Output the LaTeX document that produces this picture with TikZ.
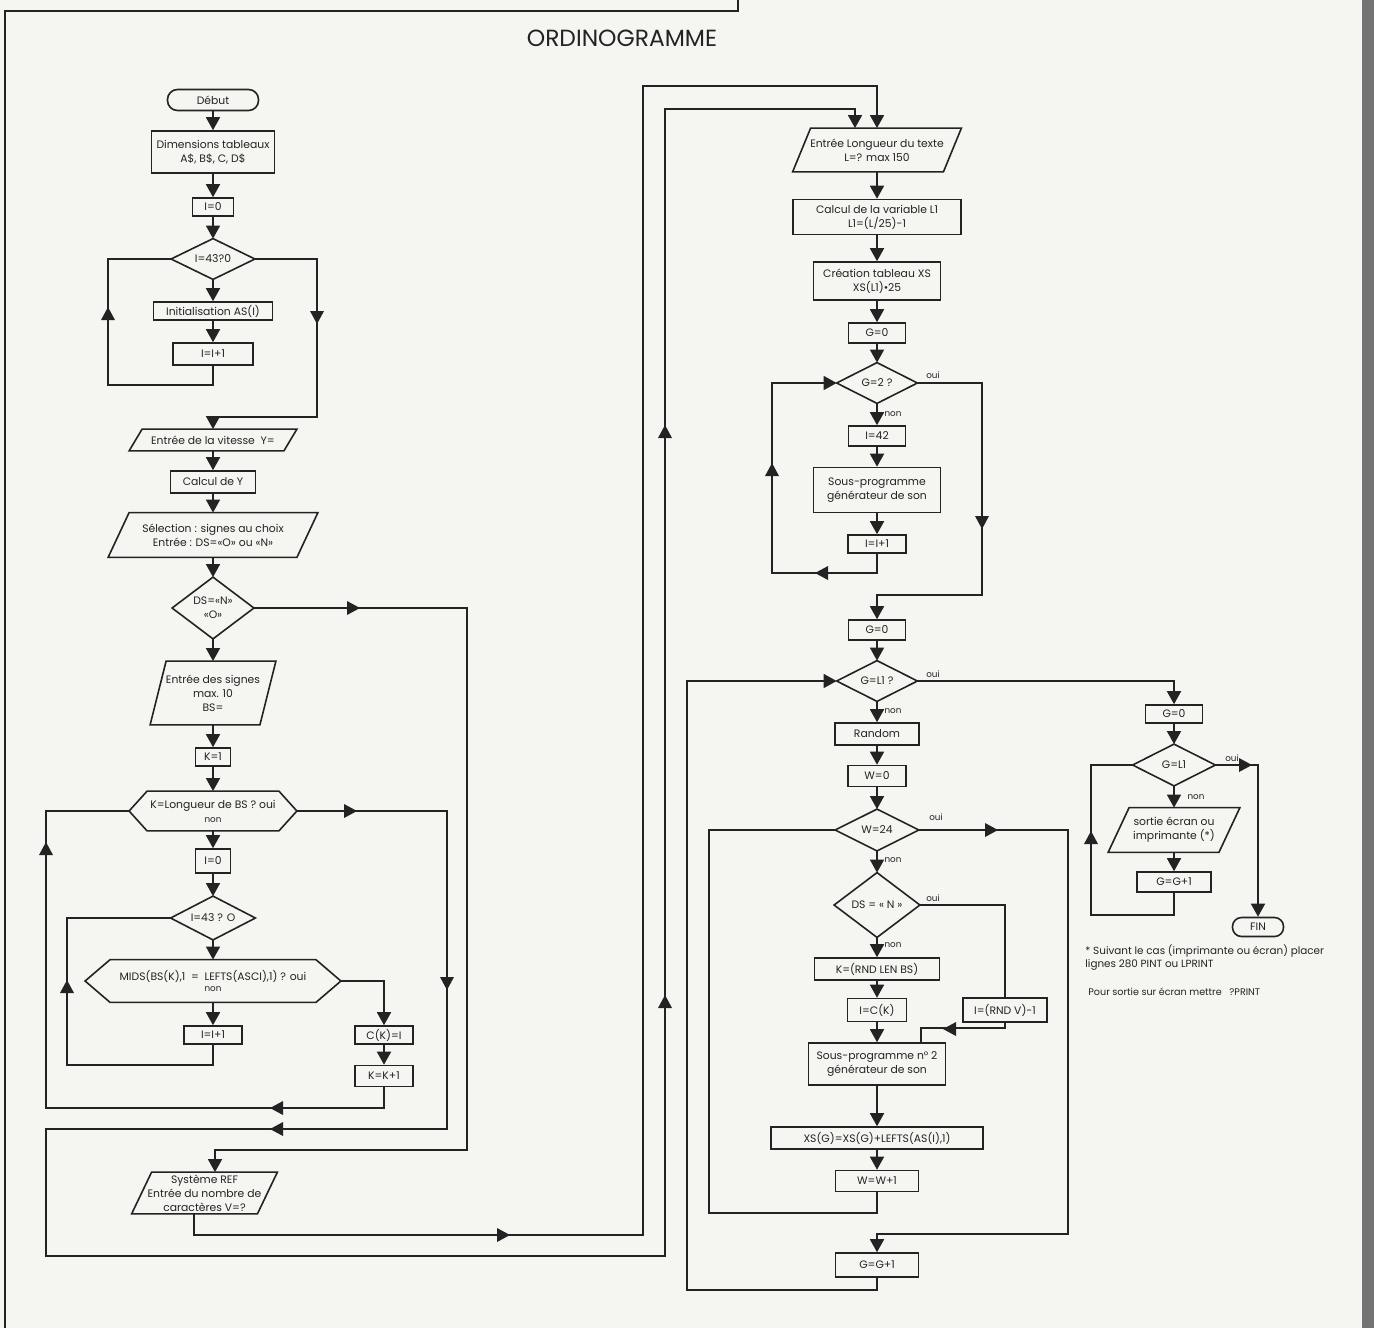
\documentclass[tikz,border=0pt]{standalone}
\usepackage{fontspec}
\setmainfont{Poppins}
\usetikzlibrary{arrows.meta,calc}
\definecolor{lc}{RGB}{35,35,35}
\definecolor{bgc}{RGB}{245,245,242}
\newcommand\bxfont{\fontsize{5.4}{7}\selectfont}
\newcommand\lbfont{\fontsize{4.4}{5}\selectfont}
\newcommand\ntfont{\fontsize{5.2}{6.8}\selectfont}
\newcommand\mkpara[2]{\draw[ln] ([xshift=#2]#1.north west) -- (#1.north east) -- ([xshift=-#2]#1.south east) -- (#1.south west) -- cycle;}
\newcommand\mkhex[2]{\draw[ln] (#1.west) -- ([xshift=#2]#1.north west) -- ([xshift=-#2]#1.north east) -- (#1.east) -- ([xshift=-#2]#1.south east) -- ([xshift=#2]#1.south west) -- cycle;}
\newcommand\mkdiam[1]{\draw[ln] (#1.north) -- (#1.east) -- (#1.south) -- (#1.west) -- cycle;}
\begin{document}
\begin{tikzpicture}[x=0.5pt,y=-0.5pt,
  ln/.style={draw=lc, line width=0.8pt},
  arr/.style={ln, -{Triangle[length=6.5pt,width=7pt]}},
  nb/.style={rectangle, inner sep=0pt, align=center, font=\bxfont, text=lc},
  box/.style={nb, draw=lc, line width=0.8pt},
  sz/.style 2 args={minimum width={(#1)*0.5pt}, minimum height={(#2)*0.5pt}},
  lab/.style={inner sep=0pt, font=\lbfont, text=lc},
  nt/.style={inner sep=0pt, font=\ntfont, text=lc, align=left},
  pics/ah/.style={code={\fill[lc] (0,0) -- (-13,7) -- (-13,-7) -- cycle;}}
]
\fill[bgc] (0,0) rectangle (1374,1328);
\useasboundingbox (0,0) rectangle (1374,1328);
\fill[black!55] (1362,0) rectangle (1374,1328);
\draw[ln] (5,1328) -- (5,11) -- (738,11) -- (738,0);
\node[font=\fontsize{11.7}{13}\selectfont, text=lc, inner sep=0pt] (title) at (622,38) {ORDINOGRAMME};

% ---------------- left column
\node[box, rounded corners=5pt, sz={91}{21}] (debut) at (213,100) {Début};
\node[box, sz={123}{42}] (dim) at (213,152) {Dimensions tableaux\\A\$, B\$, C, D\$};
\node[box, sz={41}{18}] (i0a) at (213,207) {I=0};
\node[nb, sz={83}{40}] (d1) at (213,259) {I=43?0}; \mkdiam{d1}
\node[box, sz={119}{18}] (init) at (213,311) {Initialisation AS(I)};
\node[box, sz={80}{22}] (inc1) at (213,354) {I=I+1};
\node[nb, sz={167}{21}] (vit) at (213,440) {Entrée de la vitesse\ \ Y=}; \mkpara{vit}{6.5pt}
\node[box, sz={85}{22}] (caly) at (213,482) {Calcul de Y};
\node[nb, sz={209}{44}] (sel) at (213,535) {Sélection : signes au choix\\Entrée : DS=«O» ou «N»}; \mkpara{sel}{10.5pt}
\node[nb, sz={81}{61}] (dsd) at (213,608) {DS=«N»\\«O»}; \mkdiam{dsd}
\node[nb, sz={125}{63}] (sig) at (213,693) {Entrée des signes\\max. 10\\BS=}; \mkpara{sig}{8pt}
\node[box, sz={35}{18}] (k1) at (213,757) {K=1};
\node[nb, sz={167}{39}] (khex) at (213,811) {K=Longueur de BS ? oui\\{\lbfont non}}; \mkhex{khex}{9pt}
\node[box, sz={35}{24}] (i0b) at (213,861) {I=0};
\node[nb, sz={84}{43}] (d43) at (213,918) {I=43 ? O}; \mkdiam{d43}
\node[nb, sz={255}{42}] (midhex) at (213,981) {MIDS(BS(K),1\ \ =\ \ LEFTS(ASCI),1) ? oui\\[-1.5pt]{\lbfont non}}; \mkhex{midhex}{12.5pt}
\node[box, sz={58}{18}] (inc2) at (213,1035) {I=I+1};
\node[box, sz={58}{18}] (ck) at (384,1035) {C(K)=I};
\node[box, sz={58}{21}] (kk) at (384,1076) {K=K+1};
\node[nb, sz={145}{41}] (sys) at (204.5,1193) {Système REF\\Entrée du nombre de\\caractères V=?}; \mkpara{sys}{10pt}

\draw[arr] (debut.south) -- (dim.north);
\draw[arr] (dim.south) -- (i0a.north);
\draw[arr] (i0a.south) -- (d1.north);
\draw[arr] (d1.south) -- (init.north);
\draw[arr] (init.south) -- (inc1.north);
\draw[ln] (inc1.south) |- (108,385) |- (d1.west);
\draw[arr] (d1.east) -| (317,417) -| (vit.north);
\draw[arr] (vit.south) -- (caly.north);
\draw[arr] (caly.south) -- (sel.north);
\draw[arr] (sel.south) -- (dsd.north);
\draw[arr] (dsd.south) -- (sig.north);
\draw[arr] (sig.south) -- (k1.north);
\draw[arr] (k1.south) -- (khex.north);
\draw[arr] (khex.south) -- (i0b.north);
\draw[arr] (i0b.south) -- (d43.north);
\draw[arr] (d43.south) -- (midhex.north);
\draw[arr] (midhex.south) -- (inc2.north);
\draw[arr] (midhex.east) -| (ck.north);
\draw[arr] (ck.south) -- (kk.north);
\draw[ln] (inc2.south) |- (67,1065) |- (d43.west);
\draw[ln] (kk.south) |- (46,1108) |- (khex.west);
\draw[arr] (dsd.east) -| (467,1150) -| ([xshift=5.25pt]sys.north);

\pic[rotate=90] at (108,307) {ah};
\pic[rotate=-90] at (317,324) {ah};
\pic at (360,608) {ah};
\pic at (357,811) {ah};
\pic[rotate=-90] at (447,990) {ah};
\pic[rotate=90] at (67,980) {ah};
\pic[rotate=180] at (270,1108) {ah};
\pic[rotate=90] at (46,842) {ah};
\pic[rotate=180] at (270,1129) {ah};
\pic at (510,1235) {ah};
\pic[rotate=90] at (665,425) {ah};
\pic[rotate=90] at (665,995) {ah};

% ---------------- middle column
\node[nb, sz={168}{43}] (elong) at (877,150) {Entrée Longueur du texte\\L=? max 150}; \mkpara{elong}{9pt}
\node[box, sz={168}{35}] (calc) at (877,217) {Calcul de la variable L1\\L1=(L/25)-1};
\node[box, sz={127}{38}] (crea) at (877,281) {Création tableau XS\\XS(L1)•25};
\node[box, sz={57}{20}] (g0a) at (877,333) {G=0};
\node[nb, sz={80}{40}] (d2) at (877,383) {G=2 ?}; \mkdiam{d2}
\node[box, sz={57}{20}] (i42) at (877,436) {I=42};
\node[box, sz={127}{45}] (sous) at (877,490) {Sous-programme\\générateur de son};
\node[box, sz={58}{18}] (inc3) at (877,544) {I=I+1};
\node[box, sz={57}{20}] (g0b) at (877,630) {G=0};
\node[nb, sz={80}{40}] (dl1) at (877,681) {G=L1 ?}; \mkdiam{dl1}
\node[box, sz={84}{22}] (rand) at (877,734) {Random};
\node[box, sz={58}{21}] (w0) at (877,776) {W=0};
\node[nb, sz={83}{41}] (dw) at (877,830) {W=24}; \mkdiam{dw}
\node[nb, sz={85}{64}] (dds) at (877,905) {DS = « N »}; \mkdiam{dds}
\node[box, sz={125}{22}] (krnd) at (877,969) {K=(RND LEN BS)};
\node[box, sz={59}{23}] (ick) at (877,1010) {I=C(K)};
\node[box, sz={84}{24}] (irv) at (1005,1010) {I=(RND V)-1};
\node[box, sz={137}{42}] (sous2) at (877,1064) {Sous-programme n° 2\\générateur de son};
\node[box, sz={212}{22}] (xs) at (877,1138) {XS(G)=XS(G)+LEFTS(AS(I),1)};
\node[box, sz={83}{21}] (ww) at (877,1181) {W=W+1};
\node[box, sz={83}{24}] (gg) at (877,1265) {G=G+1};

\draw[arr] (khex.east) -| (447,1129) -| (46,1256) -| (665,109) -| ([xshift=-11pt]elong.north);
\draw[arr] ([xshift=-5.25pt]sys.south) |- (643,1235) |- (877,86) -- (elong.north);

\draw[arr] (elong.south) -- (calc.north);
\draw[arr] (calc.south) -- (crea.north);
\draw[arr] (crea.south) -- (g0a.north);
\draw[arr] (g0a.south) -- (d2.north);
\draw[arr] (d2.south) -- (i42.north);
\draw[arr] (i42.south) -- (sous.north);
\draw[arr] (sous.south) -- (inc3.north);
\draw[arr] (inc3.south) |- (772,573) |- (d2.west);
\draw[arr] (d2.east) -| (982,595) -| (g0b.north);
\draw[arr] (g0b.south) -- (dl1.north);
\draw[arr] (dl1.south) -- (rand.north);
\draw[arr] (rand.south) -- (w0.north);
\draw[arr] (w0.south) -- (dw.north);
\draw[arr] (dw.south) -- (dds.north);
\draw[arr] (dds.south) -- (krnd.north);
\draw[arr] (krnd.south) -- (ick.north);
\draw[arr] (ick.south) -- (sous2.north);
\draw[arr] (sous2.south) -- (xs.north);
\draw[arr] (xs.south) -- (ww.north);
\draw[ln] (dds.east) -| (irv.north);
\draw[ln] (irv.south) |- ([xshift=22pt,yshift=7pt]sous2.north) -- ([xshift=22pt]sous2.north);
\draw[ln] (ww.south) |- (709,1213) |- (dw.west);
\draw[arr] (dw.east) -| (1068,1234) -| (gg.north);
\draw[arr] (gg.south) |- (687,1290) |- (dl1.west);

\pic[rotate=180] at (815,573) {ah};
\pic[rotate=90] at (772,463) {ah};
\pic[rotate=-90] at (982,529) {ah};
\pic[rotate=180] at (943,1029) {ah};
\pic at (998,830) {ah};

\node[lab] (o1) at (933,375) {oui};
\node[lab] (n1) at (893,414) {non};
\node[lab] (o2) at (933,674) {oui};
\node[lab] (n2) at (893,711) {non};
\node[lab] (o3) at (936,817) {oui};
\node[lab] (n3) at (893,860) {non};
\node[lab] (o4) at (933,898) {oui};
\node[lab] (n4) at (893,945) {non};

% ---------------- right column
\node[box, sz={57}{18}] (g0c) at (1174,714) {G=0};
\node[nb, sz={82}{41}] (drl) at (1174,765) {G=L1}; \mkdiam{drl}
\node[nb, sz={131}{44}] (sortie) at (1174,830) {sortie écran ou\\imprimante (*)}; \mkpara{sortie}{10.5pt}
\node[box, sz={74}{20}] (gg2) at (1174,882) {G=G+1};
\node[box, rounded corners=4.5pt, sz={51}{19}] (fin) at (1258,927) {FIN};

\draw[arr] (dl1.east) -| (g0c.north);
\draw[arr] (g0c.south) -- (drl.north);
\draw[arr] (drl.south) -- (sortie.north);
\draw[arr] (sortie.south) -- (gg2.north);
\draw[ln] (gg2.south) |- (1091,915) |- (drl.west);
\draw[arr] (drl.east) -| (fin.north);
\pic[rotate=90] at (1091,831) {ah};
\pic at (1252,765) {ah};
\node[lab] (o5) at (1232,758) {oui};
\node[lab] (n5) at (1196,797) {non};

\node[nt, anchor=north west] (note1) at (1085,944) {* Suivant le cas (imprimante ou écran) placer\\lignes 280 PINT ou LPRINT};
\node[nt, anchor=west, font=\fontsize{4.8}{6}\selectfont] (note2) at (1088,992) {Pour sortie sur écran mettre\ \ \ ?PRINT};
\end{tikzpicture}
\end{document}
